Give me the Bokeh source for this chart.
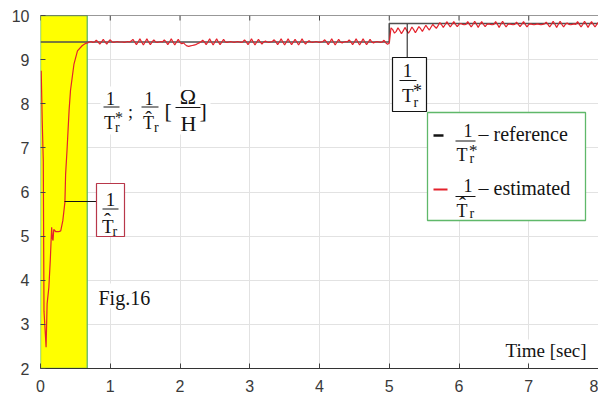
import numpy as np
from bokeh.plotting import figure
from bokeh.models import Range1d, FixedTicker
from bokeh.core.properties import value
from bokeh.embed import file_html
from bokeh.resources import INLINE

# ---------------- data ----------------
x_ticks = [0, 1, 2, 3, 4, 5, 6, 7, 8]
y_ticks = [2, 3, 4, 5, 6, 7, 8, 9, 10]

# start-up interval highlighted in yellow [sec]
startup_t = [0.0, 0.67]

# reference 1/Tr* (step at t = 5 s)
ref_t = [0.0, 5.0, 5.0, 8.0]
ref_v = [9.40, 9.40, 9.82, 9.82]

# estimated 1/Tr^ : start-up transient
est_start_t = [0.010, 0.025, 0.040, 0.050, 0.065, 0.080, 0.095, 0.120, 0.140,
               0.160, 0.170, 0.180, 0.190, 0.220, 0.260, 0.290, 0.320, 0.350,
               0.360, 0.380, 0.410, 0.430, 0.480, 0.530, 0.600, 0.650]
est_start_v = [8.75, 7.60, 6.70, 3.30, 2.90, 2.48, 3.47, 3.84, 4.44,
               5.20, 4.95, 4.90, 5.15, 5.10, 5.10, 5.12, 5.35, 5.77,
               6.40, 6.94, 7.85, 8.30, 8.90, 9.20, 9.32, 9.37]

# estimated 1/Tr^ : tracking phase, sampled every 25 ms from 0.675 s
est_t0 = 0.675
est_dt = 0.025
est_v = [
    9.38, 9.40, 9.41, 9.39, 9.40, 9.44, 9.40, 9.35, 9.40, 9.46, 9.40, 9.35, 9.41, 9.45, 9.40, 9.39, 9.40, 9.41, 9.40, 9.40,
    9.40, 9.39, 9.40, 9.41, 9.40, 9.42, 9.46, 9.40, 9.34, 9.40, 9.47, 9.40, 9.33, 9.40, 9.47, 9.40, 9.34, 9.40, 9.45, 9.40,
    9.39, 9.40, 9.41, 9.40, 9.45, 9.40, 9.34, 9.40, 9.47, 9.40, 9.33, 9.40, 9.46, 9.39, 9.36, 9.38, 9.34, 9.31, 9.30, 9.31,
    9.32, 9.33, 9.34, 9.36, 9.38, 9.40, 9.44, 9.40, 9.34, 9.40, 9.47, 9.40, 9.33, 9.40, 9.47, 9.40, 9.34, 9.40, 9.46, 9.40,
    9.39, 9.40, 9.41, 9.40, 9.39, 9.40, 9.41, 9.40, 9.39, 9.40, 9.45, 9.40, 9.34, 9.40, 9.47, 9.40, 9.33, 9.40, 9.46, 9.40,
    9.35, 9.40, 9.42, 9.40, 9.39, 9.40, 9.41, 9.45, 9.40, 9.34, 9.40, 9.47, 9.40, 9.33, 9.40, 9.47, 9.40, 9.34, 9.40, 9.46,
    9.40, 9.33, 9.40, 9.47, 9.40, 9.35, 9.40, 9.43, 9.40, 9.39, 9.40, 9.41, 9.40, 9.39, 9.40, 9.41, 9.45, 9.40, 9.34, 9.40,
    9.47, 9.40, 9.33, 9.40, 9.46, 9.40, 9.38, 9.40, 9.41, 9.40, 9.45, 9.40, 9.34, 9.40, 9.47, 9.40, 9.33, 9.40, 9.47, 9.40,
    9.34, 9.40, 9.46, 9.40, 9.38, 9.40, 9.41, 9.40, 9.39, 9.40, 9.44, 9.38, 9.35, 9.37, 9.72, 9.68, 9.60, 9.64, 9.72, 9.66,
    9.59, 9.65, 9.73, 9.66, 9.60, 9.66, 9.74, 9.68, 9.61, 9.68, 9.75, 9.70, 9.64, 9.71, 9.78, 9.72, 9.67, 9.74, 9.80, 9.75,
    9.71, 9.77, 9.84, 9.79, 9.73, 9.79, 9.86, 9.80, 9.74, 9.80, 9.86, 9.80, 9.75, 9.80, 9.82, 9.80, 9.79, 9.80, 9.86, 9.80,
    9.74, 9.80, 9.87, 9.80, 9.73, 9.80, 9.86, 9.80, 9.75, 9.80, 9.81, 9.80, 9.79, 9.80, 9.86, 9.80, 9.73, 9.80, 9.87, 9.80,
    9.74, 9.80, 9.81, 9.80, 9.79, 9.80, 9.85, 9.80, 9.75, 9.80, 9.86, 9.80, 9.74, 9.80, 9.81, 9.80, 9.79, 9.80, 9.81, 9.80,
    9.79, 9.80, 9.81, 9.85, 9.80, 9.74, 9.80, 9.87, 9.80, 9.73, 9.80, 9.87, 9.80, 9.74, 9.80, 9.83, 9.80, 9.79, 9.80, 9.81,
    9.80, 9.86, 9.80, 9.74, 9.80, 9.87, 9.80, 9.73, 9.80, 9.86, 9.80, 9.74, 9.80, 9.85,
]

est_t = list(est_start_t) + list(est_t0 + est_dt * np.arange(len(est_v)))
est_all = list(est_start_v) + list(est_v)

# ---------------- figure ----------------
SANS = "Liberation Sans"
SERIF = "Liberation Serif"
INK = "#141414"
RED = "#e4222c"
GREEN = "#5fb86a"
FRAME = "#333333"

p = figure(width=598, height=400, x_range=Range1d(0, 8), y_range=Range1d(2, 10),
           output_backend="svg", toolbar_location=None,
           min_border_left=40, min_border_right=0, min_border_top=15, min_border_bottom=32)
p.outline_line_color = None
p.background_fill_color = "white"

p.xaxis.ticker = FixedTicker(ticks=x_ticks)
p.yaxis.ticker = FixedTicker(ticks=y_ticks)
p.xgrid.ticker = FixedTicker(ticks=x_ticks)
p.ygrid.ticker = FixedTicker(ticks=y_ticks)
p.grid.grid_line_color = "#e2e2e2"
p.grid.grid_line_width = 1

for ax in (p.xaxis, p.yaxis):
    ax.major_tick_in = 5
    ax.major_tick_out = 0
    ax.minor_tick_line_color = None
    ax.major_tick_line_color = "#444444"
    ax.axis_line_color = FRAME
    ax.major_label_text_font = SANS
    ax.major_label_text_font_size = "16px"
    ax.major_label_text_color = "#3a3a3a"
p.xaxis.major_label_standoff = 11
p.yaxis.major_label_standoff = 11
p.yaxis.axis_line_color = None

# pixel position -> data position helpers for the annotations
def dx(px):
    return 8.0 * (px - 40) / 558.0

def dy(py):
    return 10.0 - 8.0 * (py - 15) / 353.0

def label(px, py, s, size, align="left", font=SERIF, color=INK):
    # py is the wanted baseline; the svg text box sits a bit low, lift it
    p.text(x=[dx(px)], y=[dy(py - 0.3 * size)], text=[s], text_font=value(font),
           text_font_size=f"{size}px", text_align=align,
           text_baseline="alphabetic", text_color=color)

def seg(px0, py0, px1, py1, color=INK, width=1.0):
    p.segment(x0=[dx(px0)], y0=[dy(py0)], x1=[dx(px1)], y1=[dy(py1)],
              line_color=color, line_width=width)

def box(l, t, r, b, line_color=None, fill="white", width=1.0):
    p.quad(left=[dx(l)], right=[dx(r)], top=[dy(t)], bottom=[dy(b)],
           fill_color=fill, line_color=line_color, line_width=width)

# start-up interval
p.quad(left=[startup_t[0]], right=[startup_t[1]], bottom=[y_ticks[0]], top=[y_ticks[-1]],
       fill_color="#ffff00", line_color=GREEN, line_width=1.3)

# top border of the box with inward ticks
p.segment(x0=[x_ticks[0]], y0=[y_ticks[-1]], x1=[x_ticks[-1]], y1=[y_ticks[-1]],
          line_color=FRAME, line_width=1.2)
p.segment(x0=x_ticks, y0=[y_ticks[-1]] * len(x_ticks), x1=x_ticks,
          y1=[dy(20)] * len(x_ticks), line_color="#444444", line_width=1)

# curves
p.line(ref_t, ref_v, line_color="#505050", line_width=1.6)
p.line(est_t, est_all, line_color=RED, line_width=1.2)

# white patches behind free text
box(100, 86, 210, 134)
box(95, 283, 153, 308)
box(500, 339, 592, 362)

# y-quantity label: 1/Tr* ; 1/Tr^ [Ohm/H]
label(110, 103, "1", 18, "center")
seg(103, 106.5, 119, 106.5)
label(103.5, 128, "T", 18)
label(114.5, 122, "*", 16)
label(114.5, 131, "r", 14)
label(130, 117, ";", 18, "center")
label(148.5, 103, "1", 18, "center")
seg(141, 106.5, 158, 106.5)
label(148, 124, "ˆ", 20, "center")
label(142.5, 128, "T", 18)
label(153.5, 131, "r", 14)
label(164, 117, "[", 22)
label(187.5, 103, "Ω", 22, "center")
seg(175, 107, 200, 107)
label(188, 130, "H", 22, "center")
label(199, 117, "]", 22)

label(98, 303, "Fig.16", 20)
label(505, 356, "Time [sec]", 19)

# callout for the estimated value
seg(64, 201, 96, 201)
box(96, 183, 124, 236, line_color="#b8374a", width=1.2)
label(110, 205, "1", 19, "center")
seg(102, 208.5, 118, 208.5)
label(107, 226.5, "ˆ", 21, "center")
label(101.5, 232, "T", 19)
label(112, 235, "r", 14)

# callout for the reference value
seg(406.7, 23.5, 406.7, 57)
box(392, 57, 426, 111, line_color=INK, width=1.2)
label(407, 76, "1", 19, "center")
seg(399, 80, 416, 80)
label(401.5, 101, "T", 19)
label(412.5, 96, "*", 18)
label(413, 106, "r", 14)

# legend
box(427, 112, 585, 220, line_color=GREEN, width=1.3)
seg(433, 135, 443, 135, color=INK, width=2.6)
label(467.5, 135, "1", 18, "center")
seg(455, 140.5, 475, 140.5)
label(456, 160, "T", 18)
label(468.5, 155, "*", 17)
label(469, 162, "r", 14)
label(478, 139.5, "– reference", 20)

seg(433, 189, 447, 189, color=RED, width=2.2)
label(467.5, 190, "1", 18, "center")
seg(455, 196, 475, 196)
label(462, 210.5, "ˆ", 21, "center")
label(456, 215.5, "T", 18)
label(469, 217.5, "r", 14)
label(478, 193.5, "– estimated", 20)

open("out.html", "w").write(file_html(p, INLINE))
